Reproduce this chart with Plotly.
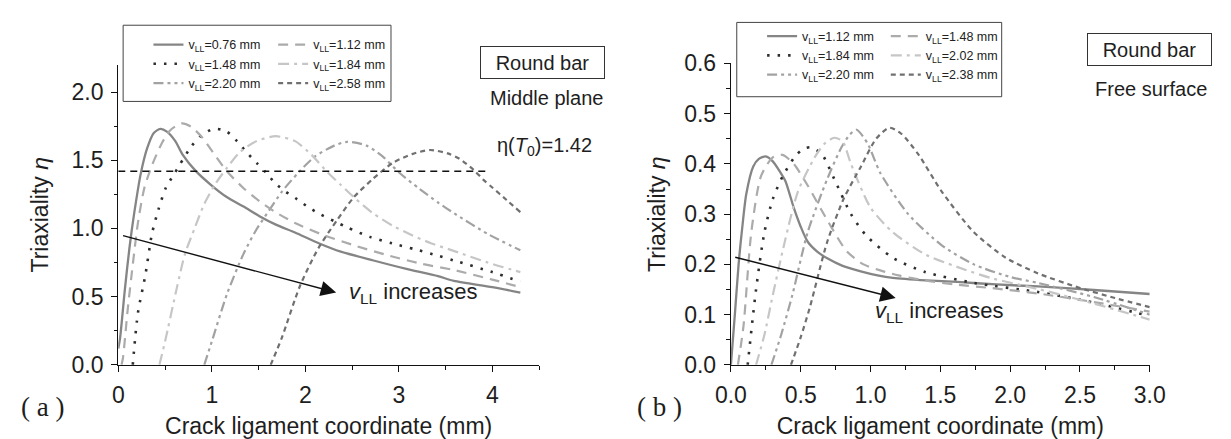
import plotly.graph_objects as go

# ---------------- panel (a): round bar, middle plane ----------------
a_x_076 = [0, 0.02, 0.07, 0.12, 0.17, 0.24, 0.31, 0.38, 0.45, 0.52, 0.61, 0.69, 0.83, 0.99, 1.16,
           1.34, 1.51, 1.68, 1.89, 2.15, 2.38, 2.73, 3.07, 3.42, 3.59, 4.0, 4.3]
a_y_076 = [0.12, 0.2, 0.55, 0.86, 1.11, 1.40, 1.59, 1.70, 1.73, 1.71, 1.64, 1.54, 1.42, 1.32, 1.23,
           1.16, 1.09, 1.03, 0.97, 0.89, 0.83, 0.765, 0.705, 0.65, 0.615, 0.57, 0.53]

a_x_112 = [0.035, 0.05, 0.10, 0.156, 0.21, 0.28, 0.365, 0.47, 0.556, 0.677, 0.78, 0.90, 1.02, 1.16,
           1.34, 1.51, 1.68, 1.89, 2.2, 2.55, 2.9, 3.25, 3.59, 4.0, 4.3]
a_y_112 = [0.0, 0.05, 0.40, 0.74, 1.04, 1.30, 1.47, 1.63, 1.72, 1.77, 1.745, 1.665, 1.55, 1.42,
           1.295, 1.20, 1.12, 1.04, 0.95, 0.87, 0.80, 0.74, 0.695, 0.625, 0.57]

a_x_148 = [0.155, 0.21, 0.29, 0.36, 0.43, 0.51, 0.59, 0.66, 0.78, 0.885, 1.02, 1.15, 1.27, 1.37, 1.48,
           1.58, 1.68, 1.79, 1.91, 2.03, 2.17, 2.31, 2.45, 2.69, 2.93, 3.18, 3.42, 3.59, 4.0, 4.3]
a_y_148 = [0.0, 0.38, 0.66, 0.96, 1.14, 1.30, 1.39, 1.47, 1.60, 1.68, 1.73, 1.715, 1.64, 1.56, 1.48,
           1.41, 1.33, 1.27, 1.215, 1.157, 1.10, 1.053, 1.007, 0.938, 0.89, 0.846, 0.80, 0.765, 0.68, 0.61]

a_x_184 = [0.44, 0.5, 0.625, 0.712, 0.816, 0.92, 1.042, 1.163, 1.302, 1.476, 1.684, 1.892, 2.066,
           2.24, 2.378, 2.517, 2.726, 2.934, 3.142, 3.351, 3.594, 3.95, 4.3]
a_y_184 = [0.0, 0.17, 0.56, 0.81, 1.0, 1.18, 1.33, 1.445, 1.56, 1.64, 1.676, 1.64, 1.54,
           1.41, 1.32, 1.23, 1.11, 1.02, 0.95, 0.89, 0.834, 0.75, 0.68]

a_x_220 = [0.92, 1.0, 1.163, 1.337, 1.476, 1.615, 1.753, 1.927, 2.101, 2.309, 2.448, 2.656, 2.83,
           3.003, 3.212, 3.42, 3.594, 3.95, 4.3]
a_y_220 = [0.0, 0.17, 0.52, 0.81, 0.99, 1.134, 1.272, 1.41, 1.526, 1.607, 1.635, 1.607, 1.526,
           1.41, 1.295, 1.19, 1.11, 0.96, 0.84]

a_x_258 = [1.63, 1.75, 1.944, 2.14, 2.344, 2.517, 2.726, 2.934, 3.142, 3.333, 3.524, 3.65, 3.8,
           3.9, 4.0, 4.15, 4.3]
a_y_258 = [0.0, 0.2, 0.58, 0.855, 1.065, 1.227, 1.365, 1.48, 1.545, 1.575, 1.55, 1.51, 1.43,
           1.36, 1.30, 1.21, 1.12]

# ---------------- panel (b): round bar, free surface ----------------
b_x_112 = [0, 0.03, 0.055, 0.08, 0.11, 0.16, 0.2, 0.25, 0.3, 0.35, 0.39, 0.45, 0.5, 0.55, 0.62,
           0.69, 0.8, 0.93, 1.05, 1.16, 1.4, 1.62, 1.9, 2.2, 2.6, 3.0]
b_y_112 = [0, 0.107, 0.2, 0.27, 0.34, 0.395, 0.41, 0.415, 0.405, 0.385, 0.366, 0.313, 0.275, 0.245,
           0.225, 0.212, 0.197, 0.186, 0.178, 0.173, 0.168, 0.165, 0.16, 0.156, 0.149, 0.141]

b_x_148 = [0.05, 0.09, 0.146, 0.216, 0.3, 0.37, 0.45, 0.55, 0.69, 0.83, 0.95, 1.07, 1.2, 1.39,
           1.6, 1.86, 2.2, 2.6, 3.0]
b_y_148 = [0, 0.077, 0.264, 0.376, 0.413, 0.418, 0.40, 0.357, 0.288, 0.226, 0.200, 0.188, 0.178,
           0.168, 0.160, 0.153, 0.142, 0.125, 0.106]

b_x_184 = [0.12, 0.18, 0.24, 0.30, 0.37, 0.46, 0.52, 0.57, 0.65, 0.74, 0.86, 0.97, 1.16, 1.39,
           1.74, 2.2, 2.6, 3.0]
b_y_184 = [0, 0.15, 0.264, 0.33, 0.375, 0.415, 0.43, 0.433, 0.42, 0.37, 0.30, 0.257, 0.213, 0.185,
           0.163, 0.145, 0.124, 0.097]

b_x_202 = [0.18, 0.24, 0.30, 0.39, 0.48, 0.60, 0.67, 0.74, 0.80, 0.86, 1.0, 1.16, 1.39, 1.62,
           1.86, 2.2, 2.6, 3.0]
b_y_202 = [0, 0.06, 0.139, 0.25, 0.345, 0.413, 0.44, 0.452, 0.445, 0.40, 0.313, 0.264, 0.22, 0.195,
           0.173, 0.151, 0.122, 0.09]

b_x_220 = [0.29, 0.36, 0.44, 0.55, 0.69, 0.79, 0.85, 0.90, 0.98, 1.07, 1.27, 1.51, 1.74, 2.0,
           2.2, 2.6, 3.0]
b_y_220 = [0, 0.06, 0.139, 0.264, 0.37, 0.432, 0.458, 0.468, 0.44, 0.382, 0.30, 0.238, 0.20, 0.175,
           0.163, 0.135, 0.10]

b_x_238 = [0.43, 0.5, 0.565, 0.69, 0.81, 0.93, 1.04, 1.135, 1.22, 1.34, 1.51, 1.74, 1.97, 2.2,
           2.5, 2.75, 3.0]
b_y_238 = [0, 0.055, 0.114, 0.245, 0.332, 0.394, 0.45, 0.472, 0.46, 0.42, 0.345, 0.264, 0.213,
           0.182, 0.153, 0.133, 0.115]

# reference triaxiality level drawn in panel (a)
eta_T0 = 1.42
eta_line_x = [0.0, 3.94]

# arrows: tail (x, y) -> tip (x, y)
arrow_a = (0.035, 0.95, 2.33, 0.53)
arrow_b = (0.02, 0.215, 1.18, 0.133)

W, H = 1231, 439
FONT = "Liberation Sans, Arial, sans-serif"
INK = "#1e1e1e"


def px(x):
    return x / W


def py(y):
    return 1 - y / H


# line styles: solid, long dash, dots, dash-dot, dash-dot-dot, short dash
STYLES = [
    dict(color="#858585", dash="solid", width=2.3),
    dict(color="#ababab", dash="10px,7px", width=2.2),
    dict(color="#2e2e2e", dash="2.5px,8px", width=2.6),
    dict(color="#c6c6c6", dash="11px,5px,3px,5px", width=2.2),
    dict(color="#a2a2a2", dash="10px,4px,3px,4px,3px,4px", width=2.2),
    dict(color="#707070", dash="5px,4px", width=2.2),
]

series_a = [
    ("0.76", a_x_076, a_y_076), ("1.12", a_x_112, a_y_112), ("1.48", a_x_148, a_y_148),
    ("1.84", a_x_184, a_y_184), ("2.20", a_x_220, a_y_220), ("2.58", a_x_258, a_y_258),
]
series_b = [
    ("1.12", b_x_112, b_y_112), ("1.48", b_x_148, b_y_148), ("1.84", b_x_184, b_y_184),
    ("2.02", b_x_202, b_y_202), ("2.20", b_x_220, b_y_220), ("2.38", b_x_238, b_y_238),
]

fig = go.Figure()

# legend columns: entries 0,2,4 on the left and 1,3,5 on the right
for i in [0, 2, 4, 1, 3, 5]:
    label, xs, ys = series_a[i]
    fig.add_trace(go.Scatter(
        x=xs, y=ys, mode="lines", xaxis="x", yaxis="y",
        name=f"v<sub>LL</sub>={label} mm",
        legend="legend" if i % 2 == 0 else "legend2",
        line=dict(shape="spline", smoothing=0.7, **STYLES[i]),
    ))
for i in [0, 2, 4, 1, 3, 5]:
    label, xs, ys = series_b[i]
    fig.add_trace(go.Scatter(
        x=xs, y=ys, mode="lines", xaxis="x2", yaxis="y2",
        name=f"v<sub>LL</sub>={label} mm",
        legend="legend3" if i % 2 == 0 else "legend4",
        line=dict(shape="spline", smoothing=0.7, **STYLES[i]),
    ))

fig.add_trace(go.Scatter(
    x=eta_line_x, y=[eta_T0, eta_T0], mode="lines", xaxis="x", yaxis="y",
    showlegend=False, line=dict(color="#111111", dash="7px,5px", width=1.5),
))

axis_common = dict(
    showline=True, linecolor="#111111", linewidth=1.4, mirror=False,
    ticks="outside", ticklen=6, tickwidth=1.3, tickcolor="#111111",
    showgrid=False, zeroline=False, ticklabelstandoff=3,
    tickfont=dict(family=FONT, size=23, color=INK),
    title_font=dict(family=FONT, size=23, color=INK),
)
minor_ticks = dict(ticks="outside", ticklen=3.5, tickwidth=1.1, tickcolor="#111111", showgrid=False)

layout_axes = dict(
    xaxis=dict(domain=[px(105), px(537)], range=[0, 4.5], dtick=1, tick0=0,
               anchor="y", title=dict(text="Crack ligament coordinate (mm)", standoff=13),
               minor=dict(dtick=0.5, **minor_ticks), **axis_common),
    yaxis=dict(domain=[py(374), py(55)], range=[0, 2.2], dtick=0.5, tick0=0, tickformat=".1f",
               anchor="x", title=dict(text="Triaxiality <i>η</i>", standoff=16),
               minor=dict(dtick=0.25, **minor_ticks), **axis_common),
    xaxis2=dict(domain=[px(734), px(1164)], range=[0, 3.0], dtick=0.5, tick0=0, tickformat=".1f",
                anchor="y2", title=dict(text="Crack ligament coordinate (mm)", standoff=13),
                minor=dict(dtick=0.25, **minor_ticks), **axis_common),
    yaxis2=dict(domain=[py(374), py(53.6)], range=[0, 0.6], dtick=0.1, tick0=0, tickformat=".1f",
                anchor="x2", title=dict(text="Triaxiality <i>η</i>", standoff=12),
                minor=dict(dtick=0.05, **minor_ticks), **axis_common),
)

legend_common = dict(
    orientation="v", xanchor="left", yanchor="top", bgcolor="rgba(0,0,0,0)", borderwidth=0,
    font=dict(family=FONT, size=12.5, color="#222222"), tracegroupgap=0, itemclick=False,
)

annotations = []
for (x0, y0, x1, y1), xr, yr in [(arrow_a, "x", "y"), (arrow_b, "x2", "y2")]:
    annotations.append(dict(
        x=x1, y=y1, ax=x0, ay=y0, xref=xr, yref=yr, axref=xr, ayref=yr, text="",
        showarrow=True, arrowhead=2, arrowsize=2.2, arrowwidth=1.4, arrowcolor="#111111",
    ))

label_font = dict(family=FONT, size=22, color=INK)
cap_font = dict(family=FONT, size=20, color=INK)
tag_font = dict(family="Liberation Serif, DejaVu Serif, serif", size=27, color=INK)


def paper_text(x, y, text, font, **kw):
    return dict(x=px(x), y=py(y), xref="paper", yref="paper", xanchor="center",
                yanchor="middle", showarrow=False, text=text, font=font, **kw)


annotations += [
    dict(x=2.45, y=0.53, xref="x", yref="y", xanchor="left", yanchor="middle", showarrow=False,
         text="<i>v</i><sub>LL</sub> increases", font=label_font),
    dict(x=1.02, y=0.105, xref="x2", yref="y2", xanchor="left", yanchor="middle", showarrow=False,
         text="<i>v</i><sub>LL</sub> increases", font=label_font),
    # boxed captions and plane names
    paper_text(540.5, 52.5, "Round bar", cap_font, width=117, height=25, borderpad=3,
               bordercolor="#333333", borderwidth=1),
    paper_text(545, 90, "Middle plane", cap_font),
    paper_text(543, 142, "η(<i>T</i><sub>0</sub>)=1.42", cap_font),
    paper_text(1163.5, 38.5, "Round bar", cap_font, width=117, height=25, borderpad=3,
               bordercolor="#333333", borderwidth=1),
    paper_text(1165, 81, "Free surface", cap_font),
    # panel tags
    paper_text(27, 419, "( a )", tag_font),
    paper_text(661, 419, "( b )", tag_font),
]

shapes = [
    dict(type="rect", xref="paper", yref="paper", x0=px(110), x1=px(385), y0=py(94), y1=py(13),
         line=dict(color="#444444", width=1)),
    dict(type="rect", xref="paper", yref="paper", x0=px(740), x1=px(1012), y0=py(89), y1=py(10),
         line=dict(color="#444444", width=1)),
]

fig.update_layout(
    width=W, height=H, margin=dict(l=0, r=0, t=0, b=0),
    paper_bgcolor="white", plot_bgcolor="white",
    font=dict(family=FONT, color=INK),
    legend=dict(x=px(136), y=py(18), **legend_common),
    legend2=dict(x=px(264), y=py(18), **legend_common),
    legend3=dict(x=px(766), y=py(9), **legend_common),
    legend4=dict(x=px(893), y=py(9), **legend_common),
    annotations=annotations, shapes=shapes,
    **layout_axes,
)

fig.write_html("out.html")
